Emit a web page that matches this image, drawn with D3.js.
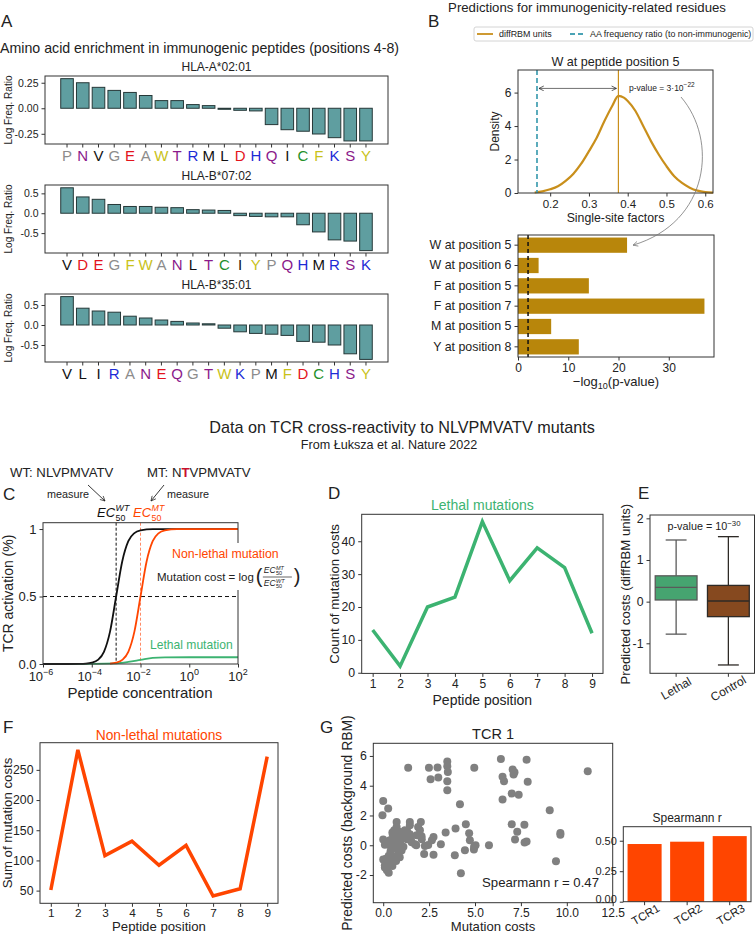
<!DOCTYPE html>
<html lang="en">
<head>
<meta charset="UTF-8">
<title>Immunogenicity and TCR cross-reactivity</title>
<script src="https://d3js.org/d3.v7.min.js"></script>
<style>
  body { margin: 0; background: #fff; }
  svg { display: block; }
</style>
</head>
<body>
<script>
// ---------- data ----------
const hlaA0201Letters = ["P","N","V","G","E","A","W","T","R","M","L","D","H","Q","I","C","F","K","S","Y"];
const hlaA0201Values = [0.29,0.25,0.205,0.175,0.155,0.125,0.075,0.075,0.036,0.026,-0.01,-0.02,-0.026,-0.16,-0.21,-0.225,-0.252,-0.288,-0.32,-0.32];
const hlaB0702Letters = ["V","D","E","G","F","W","A","N","L","T","C","I","Y","P","Q","H","M","R","S","K"];
const hlaB0702Values = [0.64,0.41,0.35,0.22,0.17,0.17,0.15,0.14,0.09,0.08,0.07,-0.06,-0.08,-0.09,-0.09,-0.29,-0.47,-0.67,-0.70,-0.94];
const hlaB3501Letters = ["V","L","I","R","A","N","E","Q","G","T","W","K","P","M","F","D","C","H","S","Y"];
const hlaB3501Values = [0.71,0.42,0.35,0.32,0.22,0.175,0.125,0.09,0.05,0.03,-0.08,-0.17,-0.21,-0.23,-0.26,-0.41,-0.43,-0.5,-0.72,-0.86];

const densityX = [0.16,0.18,0.20,0.22,0.24,0.26,0.28,0.30,0.32,0.34,0.36,0.376,0.39,0.40,0.42,0.44,0.46,0.48,0.50,0.52,0.54,0.56,0.58,0.60,0.62];
const densityY = [0.03,0.1,0.22,0.4,0.72,1.15,1.75,2.5,3.3,4.3,5.2,5.8,5.7,5.5,4.9,4.0,3.1,2.3,1.6,1.0,0.6,0.32,0.14,0.05,0.02];
const aaFreqRatio = 0.166;
const diffRBMValue = 0.376;

const residueLabels = ["W at position 5","W at position 6","F at position 5","F at position 7","M at position 5","Y at position 8"];
const residueLogP = [21.7,4.1,14.1,37.1,6.6,12.1];
const logPThreshold = 2;

// schematic activation curves (log10 concentration, activation)
const wtLogC = [-6,-5,-4.5,-4.25,-4,-3.75,-3.5,-3.25,-3,-2.75,-2.5,-2.25,-2,-1.5,-1,0,1,2];
const wtAct  = [0,0,0.001,0.003,0.01,0.03,0.09,0.24,0.5,0.76,0.91,0.97,0.99,1,1,1,1,1];
const mtLogC = [-6,-4,-3.25,-3,-2.75,-2.5,-2.25,-2,-1.75,-1.5,-1.25,-1,-0.5,0,1,2];
const mtAct  = [0,0,0.003,0.01,0.03,0.09,0.24,0.5,0.76,0.91,0.97,0.99,1,1,1,1];
const lethalLogC = [-6,-4,-3,-2.5,-2,-1.5,-1,0,1,2];
const lethalAct  = [0,0.001,0.005,0.015,0.03,0.045,0.049,0.05,0.05,0.05];
const ec50WT = -3, ec50MT = -2;

const positions = [1,2,3,4,5,6,7,8,9];
const lethalCounts = [13,2,20,23,46,28,38,32,12];
const nonLethalSums = [51,283,108,132,92,125,41,53,272];

const boxGroups = ["Lethal","Control"];
const boxLow = [-0.78,-1.52];
const boxQ1 = [0.04,-0.36];
const boxMedian = [0.345,0.015];
const boxQ3 = [0.62,0.39];
const boxHigh = [1.48,1.56];

const mutationCosts = [1.36,2.49,2.96,2.58,3.0,3.49,3.49,3.52,3.49,3.49,4.96,4.18,6.41,6.5,6.58,6.5,7.05,7.15,7.1,7.81,7.87,7.0,7.38,11.14,9.07,7.0,7.69,7.3,7.18,7.7,7.81,9.65,9.65,9.41,5.76,5.03,4.94,4.72,4.68,4.5,4.45,3.94,3.9,4.23,3.4,3.14,2.74,2.65,2.27,2.45,2.23,2.74,2.05,1.9,2.0,1.82,2.09,1.73,1.45,1.45,1.45,1.5,1.55,1.18,1.05,0.87,0.73,0.73,0.6,0.5,0.52,0.64,0.55,0.36,0.45,0.73,0.9,1.0,0.82,0.64,0.55,0.42,0.18,0.09,0.2,0.09,0.0,0.0,-0.04,0.27,0.0,0.09,0.3,0.4,0.6,0.7,0.8,0.95,1.1,0.5,0.3,0.25,0.7,0.9,1.1,1.3,0.15,0.35,0.6,0.8,1.8,2.1,1.3,4.95];
const predictedCosts = [5.2,5.2,5.22,4.44,4.55,5.62,5.3,4.93,4.3,3.7,5.2,2.76,5.8,4.6,4.3,3.07,5.09,4.9,4.75,5.74,4.26,3.47,3.4,4.98,2.35,1.41,1.38,0.9,0.38,0.18,0.25,0.83,0.7,-1.08,0.0,0.0,-0.29,0.34,0.8,1.41,-0.34,1.12,-0.67,-1.88,0.85,0.07,0.56,0.34,-0.05,0.02,-0.58,-0.63,1.57,1.23,1.0,0.67,0.6,0.07,1.57,1.35,0.74,0.38,0.2,1.0,0.85,0.9,1.57,1.23,1.0,0.85,0.7,0.55,0.34,0.34,0.1,0.15,-0.1,-0.35,-0.55,-0.78,-1.0,-1.2,-1.0,-1.35,-1.68,-1.5,-0.95,2.98,2.02,2.47,0.38,0.04,-0.7,-0.4,-0.2,0.35,0.6,0.3,-0.1,-1.4,-1.85,-1.2,-1.05,-0.8,0.5,0.4,-0.9,0.0,0.15,-0.3,0.0,0.4,0.95,-0.1];

const tcrNames = ["TCR1","TCR2","TCR3"];
const tcrSpearman = [0.473,0.492,0.538];

// ---------- styles ----------
const FONT = "'Liberation Sans', Arial, Helvetica, sans-serif";
const aaColor = {P:"#8c8c8c",G:"#8c8c8c",A:"#8c8c8c",N:"#8b1a8b",Q:"#8b1a8b",T:"#8b1a8b",S:"#8b1a8b",
  V:"#111",M:"#111",L:"#111",I:"#111",E:"#e3141c",D:"#e3141c",W:"#c9c21a",F:"#c9c21a",Y:"#c9c21a",
  R:"#1c2bd6",H:"#1c2bd6",K:"#1c2bd6",C:"#23902a"};
const GOLD = "#c98f1b", BARGOLD = "#b8860b", TEAL = "#4aa3b5";
const GREEN = "#3cb371", RED = "#ff4500";

const svg = d3.select("body").append("svg")
  .attr("width", 756).attr("height", 934)
  .attr("font-family", FONT);

const defs = svg.append("defs");
function marker(id, color) {
  defs.append("marker").attr("id", id)
    .attr("viewBox", "0 0 10 10").attr("refX", 9).attr("refY", 5)
    .attr("markerWidth", 6).attr("markerHeight", 6)
    .attr("markerUnits", "userSpaceOnUse")
    .attr("orient", "auto-start-reverse")
    .append("path").attr("d", "M1,1 L9,5 L1,9")
    .attr("fill", "none").attr("stroke", color).attr("stroke-width", 1.2);
}
marker("arrBlack", "#222");
marker("arrGray", "#777");

function addText(x, y, s, o = {}) {
  const t = svg.append("text").attr("x", x).attr("y", y).text(s)
    .attr("font-size", o.fs || 12).attr("fill", o.fill || "#222")
    .attr("text-anchor", o.anchor || "start");
  if (o.rotate) t.attr("transform", `rotate(${o.rotate},${x},${y})`);
  if (o.italic) t.attr("font-style", "italic");
  return t;
}
function frame(x0, y0, x1, y1) {
  svg.append("rect").attr("x", x0).attr("y", y0).attr("width", x1 - x0).attr("height", y1 - y0)
    .attr("fill", "none").attr("stroke", "#333").attr("stroke-width", 1);
}
const hy = f => d => f(d).replace("\u2212", "-");
function styleAxis(g, fs) {
  g.select(".domain").remove();
  g.attr("font-family", FONT).attr("font-size", fs);
  g.selectAll(".tick line").attr("stroke", "#333");
  g.selectAll(".tick text").attr("fill", "#222");
  return g;
}
function leftAxis(scale, x, ticks, fmt, fs) {
  const g = svg.append("g").attr("transform", `translate(${x},0)`)
    .call(d3.axisLeft(scale).tickValues(ticks).tickFormat(fmt).tickSize(3.5).tickPadding(3));
  return styleAxis(g, fs);
}
function bottomAxis(scale, y, ticks, fmt, fs, pad = 3) {
  const g = svg.append("g").attr("transform", `translate(0,${y})`)
    .call(d3.axisBottom(scale).tickValues(ticks).tickFormat(fmt).tickSize(3.5).tickPadding(pad));
  return styleAxis(g, fs);
}

// ---------- Panel A ----------
addText(1, 27, "A", {fs: 17});
addText(0, 53, "Amino acid enrichment in immunogenic peptides (positions 4-8)", {fs: 14.2});

function aaPanel(title, letters, values, top, domain, ticks, fmt) {
  const left = 45, right = 388, bottom = top + 68;
  const x = d3.scaleBand().domain(letters).range([left, right]).paddingInner(0.2).paddingOuter(1);
  const y = d3.scaleLinear().domain(domain).range([bottom, top]);
  svg.append("g").selectAll("rect").data(values).join("rect")
    .attr("x", (d, i) => x(letters[i])).attr("width", x.bandwidth())
    .attr("y", d => y(Math.max(0, d))).attr("height", d => Math.abs(y(d) - y(0)))
    .attr("fill", "#5f9ea0").attr("stroke", "#263838").attr("stroke-width", 1);
  frame(left, top, right, bottom);
  leftAxis(y, left, ticks, fmt, 10.5);
  svg.append("g").selectAll("line").data(letters).join("line")
    .attr("x1", d => x(d) + x.bandwidth() / 2).attr("x2", d => x(d) + x.bandwidth() / 2)
    .attr("y1", bottom).attr("y2", bottom + 3.5).attr("stroke", "#333");
  svg.append("g").selectAll("text").data(letters).join("text")
    .attr("x", d => x(d) + x.bandwidth() / 2).attr("y", bottom + 17)
    .attr("text-anchor", "middle").attr("font-size", 15)
    .attr("fill", d => aaColor[d]).text(d => d);
  addText((left + right) / 2, top - 5, title, {fs: 12, anchor: "middle"});
  addText(12, (top + bottom) / 2, "Log Freq. Ratio", {fs: 10, anchor: "middle", rotate: -90});
}
aaPanel("HLA-A*02:01", hlaA0201Letters, hlaA0201Values, 76, [-0.35, 0.316], [-0.25, 0, 0.25], hy(d3.format(".2f")));
aaPanel("HLA-B*07:02", hlaB0702Letters, hlaB0702Values, 185, [-1.0, 0.71], [-0.5, 0, 0.5], hy(d3.format(".1f")));
aaPanel("HLA-B*35:01", hlaB3501Letters, hlaB3501Values, 294, [-0.925, 0.775], [-0.5, 0, 0.5], hy(d3.format(".1f")));

// ---------- Panel B ----------
addText(587, 11.5, "Predictions for immunogenicity-related residues", {fs: 13.2, anchor: "middle"});
addText(428, 27, "B", {fs: 17});

svg.append("rect").attr("x", 474).attr("y", 27).attr("width", 279).attr("height", 14)
  .attr("rx", 2).attr("fill", "#fff").attr("stroke", "#d4d4d4");
svg.append("line").attr("x1", 477).attr("x2", 493).attr("y1", 34).attr("y2", 34).attr("stroke", GOLD).attr("stroke-width", 1.8);
addText(499, 37, "diffRBM units", {fs: 8.9});
svg.append("line").attr("x1", 570).attr("x2", 586).attr("y1", 34).attr("y2", 34).attr("stroke", TEAL)
  .attr("stroke-width", 1.8).attr("stroke-dasharray", "5,3");
addText(590, 37, "AA frequency ratio (to non-immunogenic)", {fs: 8.9});

const bx0 = 518, bx1 = 713, by0 = 70, by1 = 193;
const xDen = d3.scaleLinear().domain([0.117, 0.62]).range([bx0, bx1]);
const yDen = d3.scaleLinear().domain([0, 7.35]).range([by1, by0]);
svg.append("path")
  .datum(densityX.map((d, i) => [d, densityY[i]]))
  .attr("d", d3.line().x(d => xDen(d[0])).y(d => yDen(d[1])).curve(d3.curveMonotoneX))
  .attr("fill", "none").attr("stroke", GOLD).attr("stroke-width", 2.2);
svg.append("line").attr("x1", xDen(diffRBMValue)).attr("x2", xDen(diffRBMValue)).attr("y1", by0).attr("y2", by1)
  .attr("stroke", GOLD).attr("stroke-width", 1.2);
svg.append("line").attr("x1", xDen(aaFreqRatio)).attr("x2", xDen(aaFreqRatio)).attr("y1", by0).attr("y2", by1)
  .attr("stroke", TEAL).attr("stroke-width", 1.8).attr("stroke-dasharray", "5,3");
frame(bx0, by0, bx1, by1);
leftAxis(yDen, bx0, [0, 2, 4, 6], d3.format("d"), 12);
bottomAxis(xDen, by1, [0.2, 0.3, 0.4, 0.5, 0.6], d3.format(".1f"), 11.5);
addText((bx0 + bx1) / 2, 66, "W at peptide position 5", {fs: 12.6, anchor: "middle"});
addText(499, (by0 + by1) / 2, "Density", {fs: 12, anchor: "middle", rotate: -90});
addText((bx0 + bx1) / 2, 222, "Single-site factors", {fs: 12.3, anchor: "middle"});
svg.append("line").attr("x1", xDen(aaFreqRatio) + 2).attr("x2", xDen(diffRBMValue) - 2)
  .attr("y1", yDen(6.25)).attr("y2", yDen(6.25)).attr("stroke", "#333").attr("stroke-width", 0.7)
  .attr("marker-start", "url(#arrBlack)").attr("marker-end", "url(#arrBlack)");
const pv = addText(629, 91, "p-value ", {fs: 8.5});
pv.append("tspan").text("= 3\u00b710");
pv.append("tspan").attr("dy", -4).attr("font-size", 6.5).text("\u221222");

const bbx0 = 518, bbx1 = 714, bby0 = 235, bby1 = 357;
const xLogP = d3.scaleLinear().domain([0, 39]).range([bbx0, bbx1]);
const yRes = d3.scaleBand().domain(residueLabels).range([bby0, bby1]).paddingInner(0.25).paddingOuter(0.125);
svg.append("g").selectAll("rect").data(residueLogP).join("rect")
  .attr("x", xLogP(0)).attr("y", (d, i) => yRes(residueLabels[i]))
  .attr("width", d => xLogP(d) - xLogP(0)).attr("height", yRes.bandwidth())
  .attr("fill", BARGOLD);
svg.append("line").attr("x1", xLogP(logPThreshold)).attr("x2", xLogP(logPThreshold))
  .attr("y1", bby0).attr("y2", bby1).attr("stroke", "#111").attr("stroke-width", 1.5).attr("stroke-dasharray", "4,3");
frame(bbx0, bby0, bbx1, bby1);
leftAxis(yRes, bbx0, residueLabels, d => d, 12.4);
bottomAxis(xLogP, bby1, [0, 10, 20, 30], d3.format("d"), 12);
const lp = addText(616, 386, "\u2212log", {fs: 13, anchor: "middle"});
lp.append("tspan").attr("dy", 3).attr("font-size", 9).text("10");
lp.append("tspan").attr("dy", -3).text("(p-value)");
// curved arrow from p-value to bar
svg.append("path")
  .attr("d", `M681,97 C718,140 710,222 ${xLogP(residueLogP[0]) + 6},${yRes(residueLabels[0]) + yRes.bandwidth() / 2}`)
  .attr("fill", "none").attr("stroke", "#777").attr("stroke-width", 0.8).attr("marker-end", "url(#arrGray)");

// ---------- middle title ----------
addText(402, 433, "Data on TCR cross-reactivity to NLVPMVATV mutants", {fs: 16.2, anchor: "middle"});
addText(389, 449, "From \u0141uksza et al. Nature 2022", {fs: 12.6, anchor: "middle"});

// ---------- Panel C ----------
addText(3, 500, "C", {fs: 17});
addText(10, 477, "WT: NLVPMVATV", {fs: 13.2});
const mt = addText(147, 477, "MT: N", {fs: 13.2});
mt.append("tspan").attr("fill", "#c8102e").attr("font-weight", "bold").text("T");
mt.append("tspan").text("VPMVATV");
addText(68, 498, "measure", {fs: 10.8, anchor: "middle"});
addText(188, 498, "measure", {fs: 10.8, anchor: "middle"});
svg.append("line").attr("x1", 88).attr("y1", 485).attr("x2", 105).attr("y2", 501)
  .attr("stroke", "#222").attr("stroke-width", 0.9).attr("marker-end", "url(#arrBlack)");
svg.append("line").attr("x1", 164).attr("y1", 485).attr("x2", 151).attr("y2", 501)
  .attr("stroke", "#222").attr("stroke-width", 0.9).attr("marker-end", "url(#arrBlack)");

function ecLabel(x, y, sup, color, fs) {
  const t = addText(x, y, "EC", {fs: fs, fill: color, italic: true});
  const w = t.node().getComputedTextLength();
  addText(x + w + 0.5, y - 6.5, sup, {fs: fs * 0.68, fill: color, italic: true});
  addText(x + w + 0.5, y + 3.5, "50", {fs: fs * 0.68, fill: color});
}
ecLabel(97, 517, "WT", "#111", 13);
ecLabel(133, 517, "MT", RED, 13);

const cx0 = 43, cx1 = 238, cy0 = 522.7, cy1 = 664;
const xConc = d3.scaleLog().domain([1e-6, 1e2]).range([cx0, cx1]);
const yAct = d3.scaleLinear().domain([0, 1.047]).range([cy1, cy0]);
const actLine = d3.line().x(d => xConc(Math.pow(10, d[0]))).y(d => yAct(d[1])).curve(d3.curveMonotoneX);
svg.append("line").attr("x1", cx0).attr("x2", cx1).attr("y1", yAct(0.5)).attr("y2", yAct(0.5))
  .attr("stroke", "#111").attr("stroke-width", 1).attr("stroke-dasharray", "4,3");
svg.append("line").attr("x1", xConc(Math.pow(10, ec50WT))).attr("x2", xConc(Math.pow(10, ec50WT)))
  .attr("y1", cy0).attr("y2", cy1).attr("stroke", "#111").attr("stroke-width", 1).attr("stroke-dasharray", "3,2");
svg.append("line").attr("x1", xConc(Math.pow(10, ec50MT))).attr("x2", xConc(Math.pow(10, ec50MT)))
  .attr("y1", cy0).attr("y2", cy1).attr("stroke", "#ff8a66").attr("stroke-width", 1).attr("stroke-dasharray", "3,2");
svg.append("path").datum(lethalLogC.map((d, i) => [d, lethalAct[i]])).attr("d", actLine)
  .attr("fill", "none").attr("stroke", GREEN).attr("stroke-width", 1.8);
svg.append("path").datum(wtLogC.map((d, i) => [d, wtAct[i]])).attr("d", actLine)
  .attr("fill", "none").attr("stroke", "#111").attr("stroke-width", 1.8);
svg.append("path").datum(mtLogC.map((d, i) => [d, mtAct[i]]).filter(d => d[0] >= ec50WT - 0.25)).attr("d", actLine)
  .attr("fill", "none").attr("stroke", RED).attr("stroke-width", 1.8);
frame(cx0, cy0, cx1, cy1);
svg.append("rect").attr("x", 168).attr("y", 543).attr("width", 140).attr("height", 47).attr("fill", "#fff");
addText(172, 558, "Non-lethal mutation", {fs: 12.3, fill: RED});
const mc = addText(157, 581, "Mutation cost = log", {fs: 11.5});
const mcEnd = 157 + mc.node().getComputedTextLength();
addText(mcEnd + 2, 583, "(", {fs: 20});
function smallEc(x, y, sup) {
  const t = addText(x, y, "EC", {fs: 8.5, italic: true});
  const w = t.node().getComputedTextLength();
  addText(x + w + 0.3, y - 3.5, sup, {fs: 5.5, italic: true});
  addText(x + w + 0.3, y + 2, "50", {fs: 5.5});
}
smallEc(mcEnd + 10, 573, "MT");
svg.append("line").attr("x1", mcEnd + 9).attr("x2", mcEnd + 38).attr("y1", 577).attr("y2", 577).attr("stroke", "#222").attr("stroke-width", 0.7);
smallEc(mcEnd + 10, 586, "WT");
addText(mcEnd + 40, 583, ")", {fs: 20});
addText(150, 649, "Lethal mutation", {fs: 12.1, fill: GREEN});
leftAxis(yAct, cx0, [0, 0.5, 1], d => d === 1 ? "1" : d3.format(".1f")(d), 13);
bottomAxis(xConc, cy1, [1e-6, 1e-4, 1e-2, 1e0, 1e2], () => "", 13);
[-6, -4, -2, 0, 2].forEach(e => {
  const t = addText(xConc(Math.pow(10, e)) - (e < 0 ? 2 : 0), 681, "10", {fs: 13, anchor: "middle"});
  t.append("tspan").attr("dy", -6).attr("font-size", 9).text(e < 0 ? "\u2212" + (-e) : String(e));
});
addText(140, 698, "Peptide concentration", {fs: 15, anchor: "middle"});
addText(13, (cy0 + cy1) / 2, "TCR activation (%)", {fs: 14, anchor: "middle", rotate: -90});

// ---------- Panel D ----------
addText(328, 499, "D", {fs: 17});
const dx0 = 361.7, dx1 = 603, dy0 = 514.3, dy1 = 673.4;
const xPosD = d3.scaleLinear().domain([0.6, 9.4]).range([dx0, dx1]);
const yCount = d3.scaleLinear().domain([-0.2, 48.2]).range([dy1, dy0]);
svg.append("path").datum(positions.map((p, i) => [p, lethalCounts[i]]))
  .attr("d", d3.line().x(d => xPosD(d[0])).y(d => yCount(d[1])))
  .attr("fill", "none").attr("stroke", GREEN).attr("stroke-width", 3.5).attr("stroke-linejoin", "miter");
frame(dx0, dy0, dx1, dy1);
leftAxis(yCount, dx0, [0, 10, 20, 30, 40], d3.format("d"), 12.3);
bottomAxis(xPosD, dy1, positions, d3.format("d"), 12);
addText((dx0 + dx1) / 2, 510, "Lethal mutations", {fs: 14, anchor: "middle", fill: GREEN});
addText(339, (dy0 + dy1) / 2, "Count of mutation costs", {fs: 13.3, anchor: "middle", rotate: -90});
addText((dx0 + dx1) / 2, 704.5, "Peptide position", {fs: 14, anchor: "middle"});

// ---------- Panel E ----------
addText(638, 499, "E", {fs: 17});
const ex0 = 650, ex1 = 754.5, ey0 = 515, ey1 = 673.3;
const xGrp = d3.scaleBand().domain(boxGroups).range([ex0, ex1]).paddingInner(0.2).paddingOuter(0.1);
const yPred = d3.scaleLinear().domain([-1.72, 2.08]).range([ey1, ey0]);
const boxFill = ["#46a470", "#86491f"];
const boxLine = ["#5a5a5a", "#2e2a26"];
boxGroups.forEach((g, i) => {
  const x = xGrp(g), w = xGrp.bandwidth(), cx = x + w / 2;
  const st = boxLine[i];
  svg.append("line").attr("x1", cx).attr("x2", cx).attr("y1", yPred(boxQ3[i])).attr("y2", yPred(boxHigh[i])).attr("stroke", st).attr("stroke-width", 1.3);
  svg.append("line").attr("x1", cx).attr("x2", cx).attr("y1", yPred(boxQ1[i])).attr("y2", yPred(boxLow[i])).attr("stroke", st).attr("stroke-width", 1.3);
  [boxHigh[i], boxLow[i]].forEach(v => svg.append("line").attr("x1", cx - w / 4).attr("x2", cx + w / 4)
    .attr("y1", yPred(v)).attr("y2", yPred(v)).attr("stroke", st).attr("stroke-width", 1.3));
  svg.append("rect").attr("x", x).attr("width", w).attr("y", yPred(boxQ3[i]))
    .attr("height", yPred(boxQ1[i]) - yPred(boxQ3[i])).attr("fill", boxFill[i]).attr("stroke", st).attr("stroke-width", 1.3);
  svg.append("line").attr("x1", x).attr("x2", x + w).attr("y1", yPred(boxMedian[i])).attr("y2", yPred(boxMedian[i])).attr("stroke", st).attr("stroke-width", 1.3);
});
frame(ex0, ey0, ex1, ey1);
leftAxis(yPred, ex0, [-1, 0, 1, 2], hy(d3.format("d")), 12.3);
bottomAxis(xGrp, ey1, boxGroups, () => "", 12);
boxGroups.forEach(g => addText(xGrp(g) + xGrp.bandwidth() / 2 + 2, 692, g, {fs: 12, anchor: "middle", rotate: -30}));
const pE = addText(704, 530, "p-value = 10", {fs: 10.8, anchor: "middle"});
pE.append("tspan").attr("dy", -4).attr("font-size", 7.8).text("\u221230");
addText(630, (ey0 + ey1) / 2, "Predicted costs (diffRBM units)", {fs: 13.2, anchor: "middle", rotate: -90});

// ---------- Panel F ----------
addText(3, 733, "F", {fs: 17});
const fx0 = 40, fx1 = 278, fy0 = 742.7, fy1 = 903.3;
const xPosF = d3.scaleLinear().domain([0.6, 9.4]).range([fx0, fx1]);
const ySum = d3.scaleLinear().domain([29, 295]).range([fy1, fy0]);
svg.append("path").datum(positions.map((p, i) => [p, nonLethalSums[i]]))
  .attr("d", d3.line().x(d => xPosF(d[0])).y(d => ySum(d[1])))
  .attr("fill", "none").attr("stroke", RED).attr("stroke-width", 3.5);
frame(fx0, fy0, fx1, fy1);
leftAxis(ySum, fx0, [50, 100, 150, 200, 250], d3.format("d"), 12.3);
bottomAxis(xPosF, fy1, positions, d3.format("d"), 11.8, 1.5);
addText((fx0 + fx1) / 2, 740, "Non-lethal mutations", {fs: 13.8, anchor: "middle", fill: RED});
addText(12, (fy0 + fy1) / 2, "Sum of mutation costs", {fs: 13.2, anchor: "middle", rotate: -90});
addText((fx0 + fx1) / 2, 931, "Peptide position", {fs: 13.2, anchor: "middle"});

// ---------- Panel G ----------
addText(320, 733, "G", {fs: 17});
const gx0 = 373.3, gx1 = 612.7, gy0 = 743.3, gy1 = 902.7;
const xMut = d3.scaleLinear().domain([-0.54, 12.5]).range([gx0, gx1]);
const yPc = d3.scaleLinear().domain([-3.86, 6.85]).range([gy1, gy0]);
svg.append("g").selectAll("circle").data(mutationCosts).join("circle")
  .attr("cx", d => xMut(d)).attr("cy", (d, i) => yPc(predictedCosts[i]))
  .attr("r", 4).attr("fill", "#808080");
frame(gx0, gy0, gx1, gy1);
leftAxis(yPc, gx0, [-2, 0, 2, 4, 6], hy(d3.format("d")), 12.3);
bottomAxis(xMut, gy1, [0, 2.5, 5, 7.5, 10, 12.5], d3.format(".1f"), 12, 2.5);
addText((gx0 + gx1) / 2, 739, "TCR 1", {fs: 14.5, anchor: "middle"});
addText(599, 887, "Spearmann r = 0.47", {fs: 13.2, anchor: "end"});
addText(352, (gy0 + gy1) / 2, "Predicted costs (background RBM)", {fs: 13.9, anchor: "middle", rotate: -90});
addText((gx0 + gx1) / 2, 931, "Mutation costs", {fs: 13.1, anchor: "middle"});

const sx0 = 623.3, sx1 = 751, sy0 = 826.7, sy1 = 901.7;
const xTcr = d3.scaleBand().domain(tcrNames).range([sx0, sx1]).paddingInner(0.2).paddingOuter(0.1);
const ySp = d3.scaleLinear().domain([0, 0.615]).range([sy1, sy0]);
svg.append("g").selectAll("rect").data(tcrSpearman).join("rect")
  .attr("x", (d, i) => xTcr(tcrNames[i])).attr("width", xTcr.bandwidth())
  .attr("y", d => ySp(d)).attr("height", d => ySp(0) - ySp(d)).attr("fill", RED);
frame(sx0, sy0, sx1, sy1);
const gSp = leftAxis(ySp, sx0, [0, 0.25, 0.5], d3.format(".2f"), 11);
gSp.selectAll(".tick text").filter(d => d === 0).attr("dy", "0.1em");
bottomAxis(xTcr, sy1, tcrNames, () => "", 11);
tcrNames.forEach(n => addText(xTcr(n) + xTcr.bandwidth() / 2 + 3, 918, n, {fs: 11.5, anchor: "middle", rotate: -30}));
addText((sx0 + sx1) / 2, 822, "Spearmann r", {fs: 12, anchor: "middle"});
</script>
</body>
</html>
